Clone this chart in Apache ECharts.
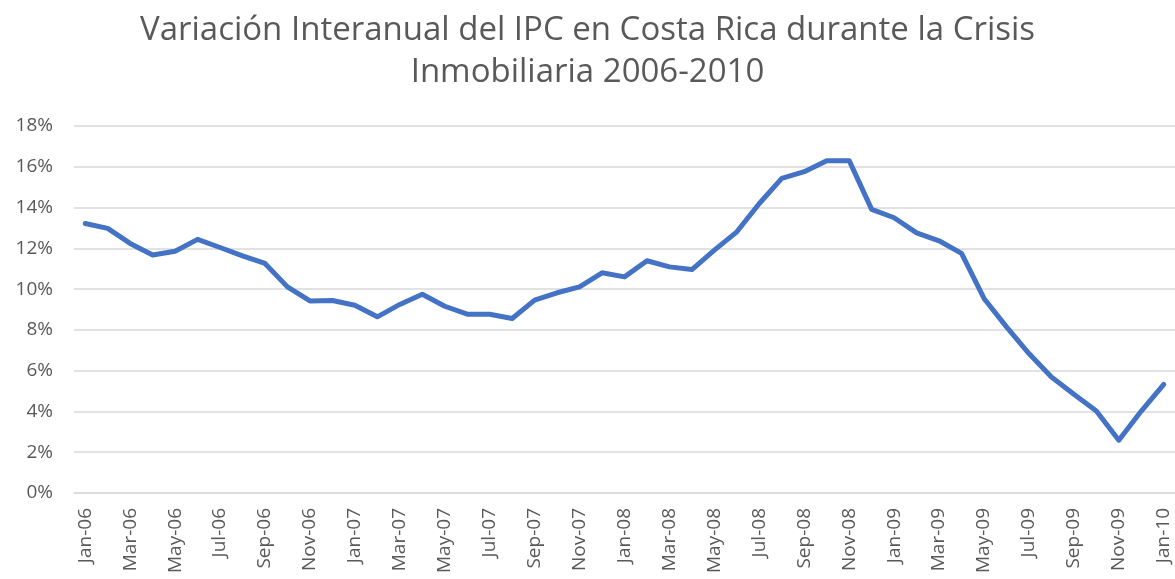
<!DOCTYPE html>
<html>
<head>
<meta charset="utf-8">
<script src="https://cdn.jsdelivr.net/npm/echarts@6/dist/echarts.min.js"></script>
<style>
  html, body { margin: 0; padding: 0; background: #fff; }
  #main { width: 1175px; height: 579px; }
</style>
</head>
<body>
<div id="main"></div>
<script>
var months = ['Jan-06', 'Feb-06', 'Mar-06', 'Apr-06', 'May-06', 'Jun-06', 'Jul-06', 'Aug-06', 'Sep-06', 'Oct-06', 'Nov-06', 'Dec-06',
    'Jan-07', 'Feb-07', 'Mar-07', 'Apr-07', 'May-07', 'Jun-07', 'Jul-07', 'Aug-07', 'Sep-07', 'Oct-07', 'Nov-07', 'Dec-07',
    'Jan-08', 'Feb-08', 'Mar-08', 'Apr-08', 'May-08', 'Jun-08', 'Jul-08', 'Aug-08', 'Sep-08', 'Oct-08', 'Nov-08', 'Dec-08',
    'Jan-09', 'Feb-09', 'Mar-09', 'Apr-09', 'May-09', 'Jun-09', 'Jul-09', 'Aug-09', 'Sep-09', 'Oct-09', 'Nov-09', 'Dec-09',
    'Jan-10'];

// variación interanual del IPC, en %
var ipc = [13.22, 12.98, 12.24, 11.67, 11.86, 12.44, 12.04, 11.63, 11.26, 10.11, 9.42, 9.44,
    9.21, 8.64, 9.25, 9.75, 9.16, 8.77, 8.77, 8.56, 9.46, 9.82, 10.11, 10.80,
    10.60, 11.39, 11.09, 10.96, 11.91, 12.81, 14.20, 15.43, 15.76, 16.30, 16.30, 13.91,
    13.50, 12.76, 12.37, 11.75, 9.54, 8.15, 6.84, 5.69, 4.84, 4.02, 2.59, 4.02,
    5.33];

var chart = echarts.init(document.getElementById('main'));

var option = {
    animation: false,
    title: {
        text: 'Variación Interanual del IPC en Costa Rica durante la Crisis\nInmobiliaria 2006-2010',
        left: 'center',
        top: 5,
        textStyle: {
            fontFamily: 'Open Sans',
            fontSize: 33,
            fontWeight: 'normal',
            color: '#595959',
            lineHeight: 42
        }
    },
    grid: {
        left: 74,
        right: -1,
        top: 126,
        bottom: 86
    },
    xAxis: {
        type: 'category',
        data: months,
        boundaryGap: true,
        axisLine: { lineStyle: { color: '#d9d9d9', width: 1.5 } },
        axisTick: { interval: 1, length: 7, lineStyle: { color: '#d9d9d9', width: 1.5 } },
        axisLabel: {
            interval: 1,
            rotate: 90,
            margin: 15,
            fontFamily: 'Open Sans',
            fontSize: 19,
            color: '#595959'
        }
    },
    yAxis: {
        type: 'value',
        min: 0,
        max: 18,
        interval: 2,
        axisLine: { show: false },
        axisTick: { show: false },
        axisLabel: {
            formatter: '{value}%',
            margin: 21,
            fontFamily: 'Open Sans',
            fontSize: 19,
            color: '#595959'
        },
        splitLine: { lineStyle: { color: '#d9d9d9', width: 1.5 } }
    },
    series: [{
        name: 'IPC',
        type: 'line',
        data: ipc,
        showSymbol: false,
        lineStyle: { color: '#4472c4', width: 5, cap: 'round', join: 'round' }
    }]
};

chart.setOption(option);
</script>
</body>
</html>
